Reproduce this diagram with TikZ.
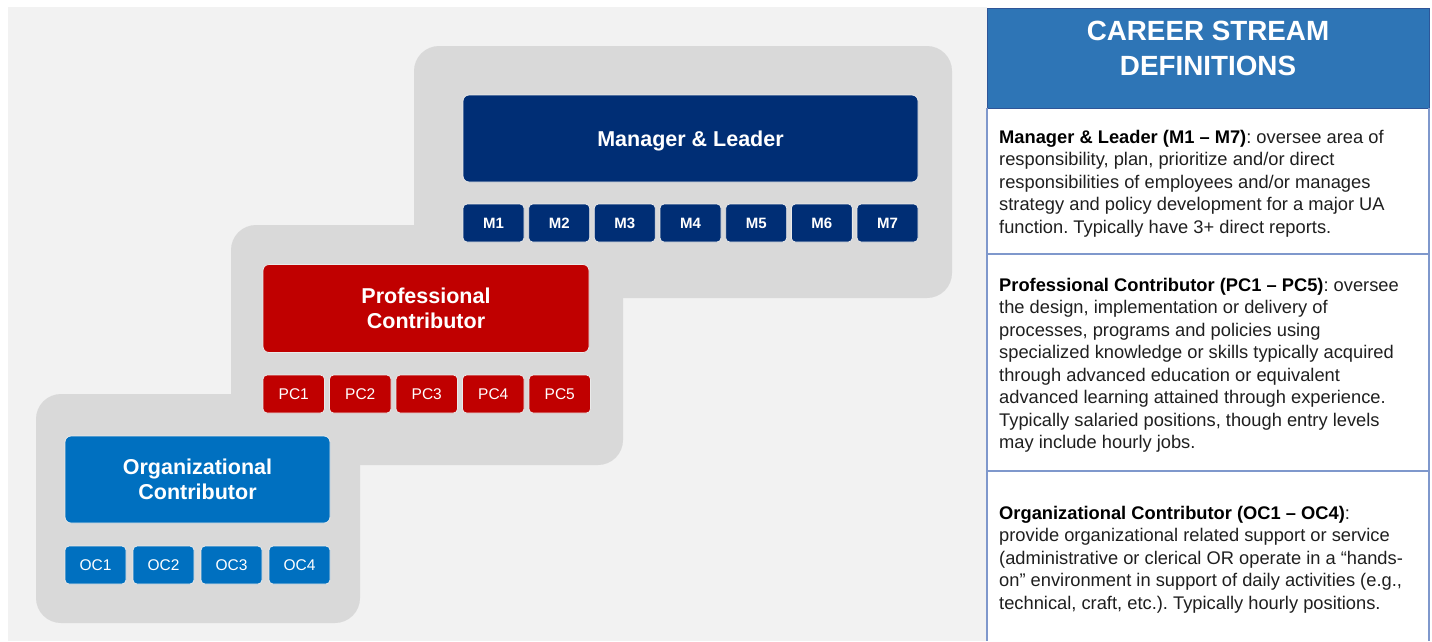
\documentclass[tikz,border=0pt]{standalone}
\usepackage{fontspec}
\setmainfont{Liberation Sans}
\frenchspacing
\definecolor{bgl}{HTML}{F2F2F2}
\definecolor{pnl}{HTML}{D9D9D9}
\definecolor{navy}{HTML}{002E75}
\definecolor{redc}{HTML}{C00000}
\definecolor{orgb}{HTML}{0070C0}
\definecolor{hdr}{HTML}{2E75B6}
\definecolor{hdrline}{HTML}{2F5597}
\definecolor{secline}{HTML}{7F98CC}
\definecolor{bodyt}{HTML}{1F1F1F}
\definecolor{edge}{HTML}{EAEAEA}
\begin{document}
\begin{tikzpicture}[x=1pt,y=-1pt,
  panel/.style={fill=pnl, rounded corners=25pt},
  bigbox/.style={rectangle, rounded corners=6pt, draw=edge, line width=0.8pt,
    text=white, font=\bfseries\fontsize{21.5}{25}\selectfont, align=center, inner sep=0pt},
  smallbox/.style={rectangle, rounded corners=4pt, draw=edge, line width=0.8pt,
    minimum height=38pt, text=white, font=\fontsize{15.5}{17}\selectfont, inner sep=0pt},
  deftext/.style={anchor=north west, inner sep=0pt, align=left, text=bodyt,
    font=\fontsize{18.3}{22.5}\selectfont},
]
\useasboundingbox (0,0) rectangle (1432,641);
% background
\fill[bgl] (8,7) rectangle (987,641);
% grey staircase panels
\fill[panel] (414,46) rectangle (952,298);
\fill[panel] (231,225) rectangle (623,465);
\fill[panel] (36,394) rectangle (360,623);

% Manager & Leader
\node[bigbox, fill=navy, minimum width=455pt, minimum height=87pt, text depth=0pt, text height=15.4pt]
  (mgr) at (690.5,138.5) {Manager \& Leader};
\foreach \i in {1,...,7}{
  \node[smallbox, fill=navy, minimum width=61pt, font=\bfseries\fontsize{15}{17}\selectfont]
    (m\i) at ({463+30.5+(\i-1)*65.67},223) {M\i};
}
% Professional Contributor
\node[bigbox, fill=redc, minimum width=326pt, minimum height=88pt]
  (pro) at (426,308.5) {Professional\\Contributor};
\foreach \i in {1,...,5}{
  \node[smallbox, fill=redc, minimum width=61.5pt]
    (pc\i) at ({263+30.75+(\i-1)*66.5},394) {PC\i};
}
% Organizational Contributor
\node[bigbox, fill=orgb, minimum width=265pt, minimum height=87pt]
  (org) at (197.5,479.5) {Organizational\\Contributor};
\foreach \i in {1,...,4}{
  \node[smallbox, fill=orgb, minimum width=61pt]
    (oc\i) at ({65+30.5+(\i-1)*68},565) {OC\i};
}

% right panel
\fill[white] (987,108) rectangle (1429,641);
\fill[hdr] (987,8) rectangle (1429,108);
\draw[hdrline, line width=1pt] (987,8) rectangle (1429,108);
\draw[secline, line width=1.2pt] (987,108) -- (987,641);
\draw[secline, line width=1.2pt] (1429,108) -- (1429,641);
\draw[secline, line width=1.2pt] (987,254) -- (1429,254);
\draw[secline, line width=1.2pt] (987,471) -- (1429,471);
\node[inner sep=0pt, align=center, text=white, font=\bfseries\fontsize{27.8}{35}\selectfont]
  (title) at (1208,48.5) {CAREER STREAM\\DEFINITIONS};

\node[deftext] (d1) at (999,130) {\textbf{\color{black}Manager \& Leader (M1 – M7)}: oversee area of\\
responsibility, plan, prioritize and/or direct\\
responsibilities of employees and/or manages\\
strategy and policy development for a major UA\\
function. Typically have 3+ direct reports.};

\node[deftext] (d2) at (999,278) {\textbf{\color{black}Professional Contributor (PC1 – PC5)}: oversee\\
the design, implementation or delivery of\\
processes, programs and policies using\\
specialized knowledge or skills typically acquired\\
through advanced education or equivalent\\
advanced learning attained through experience.\\
Typically salaried positions, though entry levels\\
may include hourly jobs.};

\node[deftext] (d3) at (999,506) {\textbf{\color{black}Organizational Contributor (OC1 – OC4)}:\\
provide organizational related support or service\\
(administrative or clerical OR operate in a “hands-\\
on” environment in support of daily activities (e.g.,\\
technical, craft, etc.). Typically hourly positions.};
\end{tikzpicture}
\end{document}
